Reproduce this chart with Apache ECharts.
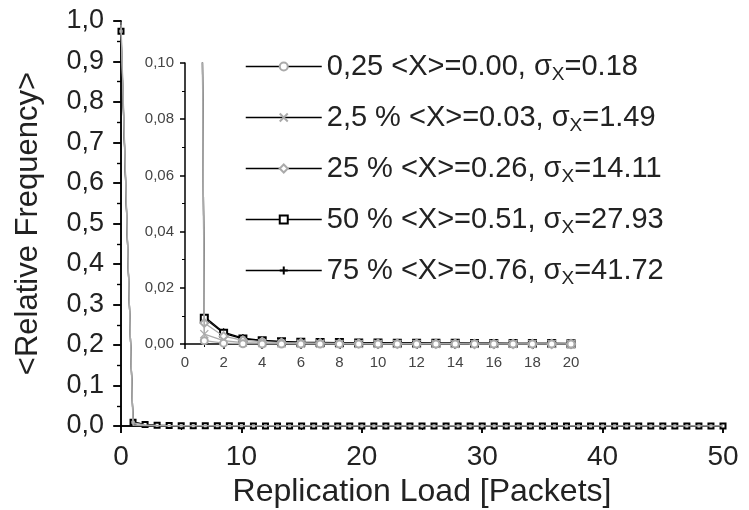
<!DOCTYPE html>
<html><head><meta charset="utf-8">
<script src="https://cdn.jsdelivr.net/npm/echarts@6/dist/echarts.min.js"></script>
<style>html,body{margin:0;padding:0;background:#fff}#c{width:749px;height:510px}</style>
</head><body><div id="c"></div>
<script>
const load = [0,1,2,3,4,5,6,7,8,9,10,11,12,13,14,15,16,17,18,19,20,21,22,23,24,25,26,27,28,29,30,31,32,33,34,35,36,37,38,39,40,41,42,43,44,45,46,47,48,49,50];
const p025 = [0.998,0.0012,0.0003,0.0001,0,0,0,0,0,0,0,0,0,0,0,0,0,0,0,0,0,0,0,0,0,0,0,0,0,0,0,0,0,0,0,0,0,0,0,0,0,0,0,0,0,0,0,0,0,0,0];
const p2_5 = [0.99,0.0035,0.0012,0.0005,0.0003,0.0002,0.0001,0.0001,0,0,0,0,0,0,0,0,0,0,0,0,0,0,0,0,0,0,0,0,0,0,0,0,0,0,0,0,0,0,0,0,0,0,0,0,0,0,0,0,0,0,0];
const p25 = [0.982,0.0075,0.0028,0.0013,0.0008,0.0005,0.0004,0.0003,0.0002,0.0002,0.0001,0.0001,0.0001,0.0001,0.0001,0,0,0,0,0,0,0,0,0,0,0,0,0,0,0,0,0,0,0,0,0,0,0,0,0,0,0,0,0,0,0,0,0,0,0,0];
const p50 = [0.975,0.0092,0.0038,0.0018,0.0012,0.0008,0.0006,0.0005,0.0005,0.0004,0.0004,0.0003,0.0003,0.0003,0.0003,0.0002,0.0002,0.0002,0.0002,0.0002,0.0001,0.0001,0.0001,0.0001,0.0001,0.0001,0.0001,0.0001,0.0001,0.0001,0.0001,0.0001,0.0001,0.0001,0.0001,0.0001,0.0001,0.0001,0.0001,0.0001,0.0001,0.0001,0.0001,0.0001,0.0001,0.0001,0.0001,0.0001,0.0001,0.0001,0.0001];
const p75 = [0.97,0.0098,0.0042,0.0021,0.0013,0.0009,0.0007,0.0006,0.0005,0.0005,0.0004,0.0004,0.0004,0.0003,0.0003,0.0003,0.0003,0.0002,0.0002,0.0002,0.0002,0.0002,0.0002,0.0002,0.0001,0.0001,0.0001,0.0001,0.0001,0.0001,0.0001,0.0001,0.0001,0.0001,0.0001,0.0001,0.0001,0.0001,0.0001,0.0001,0.0001,0.0001,0.0001,0.0001,0.0001,0.0001,0.0001,0.0001,0.0001,0.0001,0.0001];
const names = ['0,25', '2,5 %', '25 %', '50 %', '75 %'];
const means = ['0.00', '0.03', '0.26', '0.51', '0.76'];
const sigmas = ['0.18', '1.49', '14.11', '27.93', '41.72'];
const mainTicksY = ['0,0','0,1','0,2','0,3','0,4','0,5','0,6','0,7','0,8','0,9','1,0'];

const seriesVals = [p025, p2_5, p25, p50, p75];
const colors = ['#aaaaaa', '#aaaaaa', '#aaaaaa', '#000000', '#000000'];
const symbols = ['emptyCircle', 'path://M0,0L10,10M10,0L0,10', 'emptyDiamond', 'emptyRect', 'path://M5,0L5,10M0,5L10,5'];
const symSizes = [7, 8, 8, 7, 8];
const zOrder = [8, 7, 6, 4, 3];
const font = 'Liberation Sans, Arial, sans-serif';

function pairs(vals) { return load.map((x, i) => [x, vals[i]]); }
function fmtComma(v, d) { return v.toFixed(d).replace('.', ','); }
function seriesName(i) { return names[i] + ' <X>=' + means[i] + ', \u03c3X=' + sigmas[i]; }

const series = [];
seriesVals.forEach((vals, i) => {
  const nm = seriesName(i);
  series.push({
    type: 'line', name: nm, xAxisIndex: 2, yAxisIndex: 2, data: pairs(vals),
    symbol: symbols[i], symbolSize: symSizes[i], showAllSymbol: true, clip: true,
    lineStyle: { color: colors[i], width: 1.2 },
    itemStyle: { color: colors[i], borderColor: colors[i], borderWidth: 1.3 },
    z: zOrder[i] + 10, animation: false
  });
  series.push({
    type: 'line', name: nm, xAxisIndex: 0, yAxisIndex: 0, data: pairs(vals),
    symbol: i >= 3 ? symbols[i] : 'none', symbolSize: 5, showAllSymbol: true, clip: true,
    lineStyle: { color: colors[i], width: 1.2 },
    itemStyle: { color: colors[i], borderColor: colors[i], borderWidth: 1 },
    z: zOrder[i], animation: false
  });
});

const axisLine = { show: true, lineStyle: { color: '#000', width: 1.5 } };
const chart = echarts.init(document.getElementById('c'), null, { renderer: 'canvas' });
chart.setOption({
  backgroundColor: '#fff',
  animation: false,
  textStyle: { fontFamily: font },
  grid: [
    { left: 121, top: 21, right: 26, bottom: 84, containLabel: false, outerBoundsMode: 'none' },
    { left: 121, top: 21, right: 26, bottom: 84, containLabel: false, outerBoundsMode: 'none' },
    { left: 185, top: 63, right: 178, bottom: 166, z: 5, containLabel: false, outerBoundsMode: 'none' }
  ],
  xAxis: [
    { type: 'value', gridIndex: 0, min: 0, max: 50, interval: 10, position: 'bottom',
      axisLine, splitLine: { show: false },
      axisTick: { show: true, inside: false, length: 7, lineStyle: { color: '#000', width: 1.5 } },
      minorTick: { show: true, splitNumber: 2, length: 4, lineStyle: { color: '#000', width: 1.2 } },
      axisLabel: { fontSize: 28, color: '#222', margin: 17, fontFamily: font },
      name: 'Replication Load [Packets]', nameLocation: 'middle', nameGap: 50,
      nameTextStyle: { fontSize: 32, color: '#222', fontFamily: font } },
    { type: 'value', gridIndex: 1, min: 0, max: 50, interval: 10, position: 'top',
      axisLine, splitLine: { show: false },
      axisTick: { show: true, inside: true, length: 7, lineStyle: { color: '#000', width: 1.5 } },
      axisLabel: { show: false } },
    { type: 'value', gridIndex: 2, min: 0, max: 20, interval: 2,
      axisLine: { show: true, lineStyle: { color: '#000', width: 1.5 } }, splitLine: { show: false },
      axisTick: { show: true, length: 5, lineStyle: { color: '#000', width: 1.5 } },
      minorTick: { show: true, splitNumber: 2, length: 3, lineStyle: { color: '#000', width: 1 } },
      axisLabel: { fontSize: 15, color: '#444', margin: 11, fontFamily: font } }
  ],
  yAxis: [
    { type: 'value', gridIndex: 0, min: 0, max: 1, interval: 0.1,
      axisLine, splitLine: { show: false },
      axisTick: { show: true, inside: false, length: 8, lineStyle: { color: '#000', width: 1.5 } },
      minorTick: { show: true, splitNumber: 2, length: 4, lineStyle: { color: '#000', width: 1.2 } },
      axisLabel: { fontSize: 27, color: '#222', margin: 17, fontFamily: font,
        formatter: (v) => mainTicksY[Math.round(v * 10)] },
      name: '<Relative Frequency>', nameLocation: 'middle', nameGap: 77, nameRotate: 90,
      nameTextStyle: { fontSize: 31, color: '#222', fontFamily: font } },
    { type: 'value', gridIndex: 1, min: 0, max: 1, interval: 0.1, position: 'right',
      axisLine, splitLine: { show: false },
      axisTick: { show: true, inside: true, length: 7, lineStyle: { color: '#000', width: 1.5 } },
      minorTick: { show: true, splitNumber: 2, length: 4, lineStyle: { color: '#000', width: 1.2 } },
      axisLabel: { show: false } },
    { type: 'value', gridIndex: 2, min: 0, max: 0.1, interval: 0.02,
      axisLine: { show: true, lineStyle: { color: '#000', width: 1.5 } }, splitLine: { show: false },
      axisTick: { show: true, length: 5, lineStyle: { color: '#000', width: 1.5 } },
      minorTick: { show: true, splitNumber: 2, length: 3, lineStyle: { color: '#000', width: 1 } },
      axisLabel: { fontSize: 15, color: '#444', margin: 11, fontFamily: font, formatter: (v) => fmtComma(v, 2) } }
  ],
  legend: {
    orient: 'vertical', left: 240, top: 47, itemGap: 19,
    itemWidth: 76, itemHeight: 10,
    lineStyle: { color: '#000', width: 1.5 },
    textStyle: { fontSize: 29, color: '#222', fontFamily: font,
      rich: { t: { fontSize: 29, color: '#222', fontFamily: font },
              s: { fontSize: 19, color: '#222', fontFamily: font, verticalAlign: 'bottom', padding: [16, 0, 0, 0] } } },
    formatter: (nm) => {
      const parts = nm.split('\u03c3X');
      return '{t|' + parts[0] + '\u03c3}{s|X}{t|' + parts[1] + '}';
    },
    selectedMode: false,
    data: seriesVals.map((v, i) => seriesName(i))
  },
  series
});
</script></body></html>
